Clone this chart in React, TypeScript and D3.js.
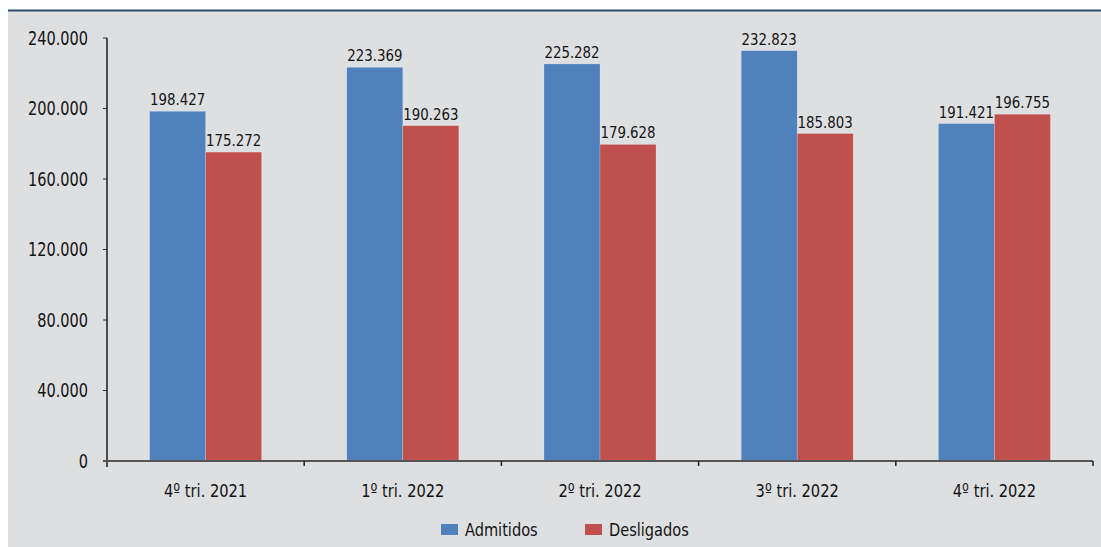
import React from "react";
import * as d3 from "d3";

const categories = ["4º tri. 2021", "1º tri. 2022", "2º tri. 2022", "3º tri. 2022", "4º tri. 2022"];
const admitidos = [198427, 223369, 225282, 232823, 191421];
const desligados = [175272, 190263, 179628, 185803, 196755];
const yTicks = [0, 40000, 80000, 120000, 160000, 200000, 240000];
const seriesNames = ["Admitidos", "Desligados"];
const seriesColors = ["#4f81bd", "#c0504d"];

const FONT = "'DejaVu Sans Condensed', 'Liberation Sans Narrow', 'Roboto', sans-serif";
const fmt = (v: number) => (v === 0 ? "0" : d3.format(",")(v).replace(/,/g, "."));

function T(props: { x: number; y: number; sx: number; size: number; anchor?: string; dy?: string; children: React.ReactNode }) {
  return (
    <text
      transform={`translate(${props.x},${props.y}) scale(${props.sx},1)`}
      textAnchor={props.anchor || "start"}
      dy={props.dy}
      fontSize={props.size}
      fill="#141414"
    >
      {props.children}
    </text>
  );
}

export default function App() {
  const W = 1101, H = 547;
  const x0 = 107, x1 = 1093, yTop = 38, yBase = 461;
  const x = d3.scaleBand().domain(categories).range([x0, x1]).paddingInner(0).paddingOuter(0);
  const y = d3.scaleLinear().domain([0, 240000]).range([yBase, yTop]);
  const bw = 56;
  const series = [admitidos, desligados];
  return (
    <svg width={W} height={H} style={{ position: "absolute", left: 0, top: 0 }} fontFamily={FONT}>
      <rect x={0} y={0} width={W} height={H} fill="#ffffff" />
      <rect x={8} y={11} width={W - 8} height={H - 11} fill="#dedfe1" />
      <line x1={8} x2={W} y1={10.5} y2={10.5} stroke="#2e4d6b" strokeWidth={2} />
      {categories.map((c, i) => {
        const cx = (x(c) as number) + x.bandwidth() / 2;
        return series.map((s, k) => {
          const bx = cx - bw + k * bw;
          const v = s[i];
          return (
            <g key={c + k}>
              <rect x={bx} y={y(v)} width={bw} height={yBase - y(v)} fill={seriesColors[k]} stroke="rgba(255,255,255,0.35)" strokeWidth={0.6} />
              <T x={bx + bw / 2} y={y(v) - 6} sx={0.9} size={16.5} anchor="middle">{fmt(v)}</T>
            </g>
          );
        });
      })}
      <line x1={x0} x2={x0} y1={yTop} y2={yBase + 6} stroke="#1a1a1a" strokeWidth={1.5} />
      {yTicks.map((t) => (
        <g key={t}>
          <line x1={x0 - 4} x2={x0} y1={y(t)} y2={y(t)} stroke="#333" strokeWidth={1} />
          <T x={88} y={y(t)} dy="0.36em" sx={0.85} size={19} anchor="end">{fmt(t)}</T>
        </g>
      ))}
      <line x1={x0 - 4} x2={x1} y1={yBase} y2={yBase} stroke="#555" strokeWidth={2} />
      {categories.map((c, i) => (
        <line key={"t" + i} x1={(x(c) as number) + x.bandwidth()} x2={(x(c) as number) + x.bandwidth()} y1={yBase} y2={yBase + 5} stroke="#222" strokeWidth={1.5} />
      ))}
      {categories.map((c) => (
        <T key={"l" + c} x={(x(c) as number) + x.bandwidth() / 2} y={497} sx={0.88} size={18.5} anchor="middle">{c}</T>
      ))}
      {seriesNames.map((n, k) => {
        const lx = [441, 585][k];
        return (
          <g key={n}>
            <rect x={lx} y={524} width={17} height={11} fill={seriesColors[k]} />
            <T x={lx + 24} y={536} sx={0.9} size={18}>{n}</T>
          </g>
        );
      })}
    </svg>
  );
}
